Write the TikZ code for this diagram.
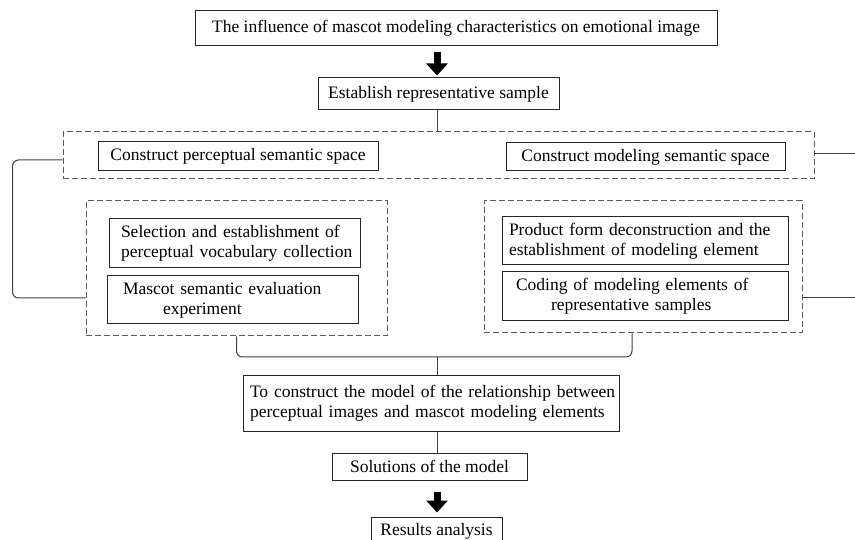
\documentclass[tikz,border=0pt]{standalone}
\usepackage{fontspec}
\setmainfont{Liberation Serif}
\usetikzlibrary{arrows.meta}

\tikzstyle{block} = [rectangle, draw=black!85, line width=1pt, inner sep=0pt, align=center]
\tikzstyle{textblock} = [block, align=left, execute at begin node={\hyphenpenalty=10000}]
\tikzstyle{group} = [rectangle, draw=black!65, line width=1pt, dash pattern=on 6pt off 3pt, inner sep=0pt]
\tikzstyle{link} = [draw=black!75, line width=1pt, rounded corners=6pt]
\tikzstyle{bigarrow} = [draw=black, line width=7pt, -{Triangle[width=21pt,length=12pt]}]

\begin{document}
\begin{tikzpicture}[x=1pt, y=-1pt, font=\fontsize{17.5}{20}\selectfont]
\clip (0,0) rectangle (855,540);
\fill[white] (0,0) rectangle (855,540);
\coordinate (spine) at (437,0);
\coordinate (join) at (437,357);
\coordinate (edgeA) at (860,154);
\coordinate (edgeB) at (860,298);

\node [block, minimum width=522pt, minimum height=35pt] (top) at (456,28.5) {The influence of mascot modeling characteristics on emotional image};
\node [block, minimum width=241pt, minimum height=32pt] (est) at (438.5,94) {Establish representative sample};

\node [group, minimum width=751pt, minimum height=47pt] (space) at (438.5,155.5) {};
\node [block, minimum width=280pt, minimum height=29pt] (percsp) at (238,156.5) {Construct perceptual semantic space};
\node [block, minimum width=279pt, minimum height=28pt] (modsp) at (645.5,157) {Construct modeling semantic space};

\node [group, minimum width=301pt, minimum height=135pt] (leftgrp) at (236.5,268.5) {};
\node [textblock, text width=251pt, minimum height=49pt] (sel) at (234.5,243.5) {\hspace*{12pt}Selection and establishment of\\\hspace*{12pt}perceptual vocabulary collection};
\node [textblock, text width=251pt, minimum height=48pt] (masc) at (232.5,300) {\hspace*{16pt}Mascot semantic evaluation\\\hspace*{56pt}experiment};

\node [group, minimum width=318pt, minimum height=132pt] (rightgrp) at (643,267) {};
\node [textblock, text width=286pt, minimum height=48pt] (prod) at (645,241) {\hspace*{7pt}Product form deconstruction and the\\\hspace*{7pt}establishment of modeling element};
\node [textblock, text width=286pt, minimum height=49pt] (cod) at (645,296.5) {\hspace*{14pt}Coding of modeling elements of\\\hspace*{49pt}representative samples};

\node [textblock, text width=376pt, minimum height=55pt] (model) at (431,403.5) {\hspace*{7pt}To construct the model of the relationship between\\\hspace*{7pt}perceptual images and mascot modeling elements};
\node [block, minimum width=195pt, minimum height=27pt] (sol) at (429.5,466.5) {Solutions of the model};
\node [block, minimum width=131pt, minimum height=28pt] (res) at (436.5,531) {Results analysis};

\draw [bigarrow, shorten <=6pt, shorten >=2pt] (spine |- top.south) -- (spine |- est.north);
\draw [link] (spine |- est.south) -- (spine |- space.north);
\draw [link] ([yshift=-4.5pt]space.west) -- ++(-50,0) |- ([yshift=-29.5pt]leftgrp.west);
\draw [link] ([yshift=1.5pt]space.east) -- (edgeA);
\draw [link] ([yshift=-31pt]rightgrp.east) -- (edgeB);
\draw [link] (leftgrp.south) |- (join) -| ([xshift=-11pt]rightgrp.south);
\draw [link] (join) -- (join |- model.north);
\draw [link] (join |- model.south) -- (join |- sol.north);
\draw [bigarrow, shorten <=11pt, shorten >=4pt] (spine |- sol.south) -- (spine |- res.north);
\end{tikzpicture}
\end{document}
